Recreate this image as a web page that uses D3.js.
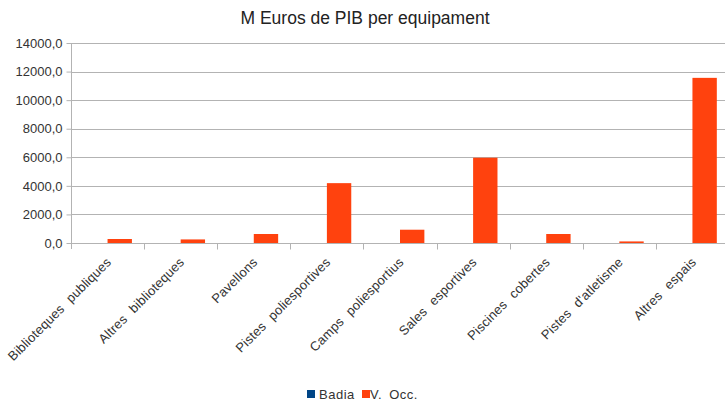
<!DOCTYPE html>
<html>
<head>
<meta charset="utf-8">
<script src="https://cdn.jsdelivr.net/npm/d3@7"></script>
<style>
  html, body { margin: 0; padding: 0; background: #fff; }
  svg { display: block; font-family: "Liberation Sans", Arial, sans-serif; }
</style>
</head>
<body>
<svg id="chart" width="725" height="406"></svg>
<script>
// Equipment categories
const categories = [
  "Biblioteques publiques", "Altres biblioteques", "Pavellons",
  "Pistes poliesportives", "Camps poliesportius", "Sales esportives",
  "Piscines cobertes", "Pistes d'atletisme", "Altres espais"
];
// Series values (M Euros de PIB per equipament)
const badia = [0, 0, 0, 0, 0, 0, 0, 0, 0];
const vOcc = [280, 250, 630, 4190, 930, 5970, 630, 110, 11560];
const seriesNames = ["Badia", "V. Occ."];
const seriesColors = ["#004586", "#ff420e"];
const yTicks = [0, 2000, 4000, 6000, 8000, 10000, 12000, 14000];

const svg = d3.select("#chart");
const margin = { left: 71, right: 729, top: 43, bottom: 243 };

const x = d3.scaleBand().domain(categories).range([margin.left, margin.right]).padding(0);
const inner = d3.scaleBand().domain(seriesNames)
  .range([x.bandwidth() / 6, x.bandwidth() * 5 / 6]).padding(0);
const y = d3.scaleLinear().domain([0, 14000]).range([margin.bottom, margin.top]);

const fmt = v => d3.format(".1f")(v).replace(".", ",");

// Title
svg.append("text")
  .attr("x", 365).attr("y", 24)
  .attr("text-anchor", "middle")
  .attr("font-size", 17.5).attr("fill", "#222")
  .text("M Euros de PIB per equipament");

// Horizontal gridlines
svg.append("g").selectAll("line").data(yTicks).join("line")
  .attr("x1", margin.left).attr("x2", 725)
  .attr("y1", d => Math.round(y(d)) + 0.5).attr("y2", d => Math.round(y(d)) + 0.5)
  .attr("stroke", "#b3b3b3").attr("stroke-width", 1);

// Y axis
const yAxis = svg.append("g")
  .attr("transform", `translate(${margin.left + 0.5},0)`)
  .call(d3.axisLeft(y).tickValues(yTicks).tickFormat(fmt).tickSize(5).tickSizeOuter(0));
yAxis.select(".domain").remove();
yAxis.selectAll(".tick line").attr("stroke", "#b3b3b3");
yAxis.selectAll(".tick text").attr("font-size", 13).attr("fill", "#333")
  .attr("font-family", "Liberation Sans, Arial, sans-serif").attr("x", -9);
svg.append("line")
  .attr("x1", margin.left + 0.5).attr("x2", margin.left + 0.5)
  .attr("y1", margin.top).attr("y2", margin.bottom + 6)
  .attr("stroke", "#b3b3b3");

// Bars
const rows = categories.map((c, i) => ({ cat: c, vals: [badia[i], vOcc[i]] }));
svg.append("g").selectAll("g").data(rows).join("g")
  .attr("transform", d => `translate(${x(d.cat)},0)`)
  .selectAll("rect").data(d => d.vals.map((v, j) => ({ v, s: seriesNames[j], c: seriesColors[j] })))
  .join("rect")
  .attr("x", d => inner(d.s))
  .attr("width", inner.bandwidth())
  .attr("y", d => y(d.v))
  .attr("height", d => y(0) - y(d.v))
  .attr("fill", d => d.c);

// X axis
const xAxis = svg.append("g")
  .attr("transform", `translate(0,${Math.round(y(0)) + 0.5})`);
xAxis.append("line")
  .attr("x1", margin.left).attr("x2", 725)
  .attr("stroke", "#b3b3b3");
const boundaries = categories.map(c => x(c)).concat([margin.right]);
xAxis.selectAll("line.tk").data(boundaries.slice(1)).join("line")
  .attr("class", "tk")
  .attr("x1", d => Math.round(d) + 0.5).attr("x2", d => Math.round(d) + 0.5)
  .attr("y1", 0).attr("y2", 6)
  .attr("stroke", "#b3b3b3");
xAxis.selectAll("text").data(categories).join("text")
  .attr("transform", d => `translate(${x(d) + x.bandwidth() / 2 - 2},${13}) rotate(-45)`)
  .attr("text-anchor", "end")
  .attr("dy", "0.7em")
  .attr("font-size", 13).attr("fill", "#333")
  .attr("letter-spacing", "0.2px").attr("word-spacing", "5px")
  .text(d => d);

// Legend
const legend = svg.append("g").attr("transform", "translate(0,394)");
const items = [{ name: "Badia", sx: 307, tx: 319 }, { name: "V. Occ.", sx: 362, tx: 370 }];
items.forEach((it, i) => {
  legend.append("rect")
    .attr("x", it.sx).attr("y", -4).attr("width", 8).attr("height", 8)
    .attr("fill", seriesColors[i]);
  legend.append("text")
    .attr("x", it.tx).attr("y", 5)
    .attr("font-size", 13).attr("fill", "#333")
    .attr("letter-spacing", "0.5px").attr("word-spacing", "3px")
    .text(it.name);
});
</script>
</body>
</html>
